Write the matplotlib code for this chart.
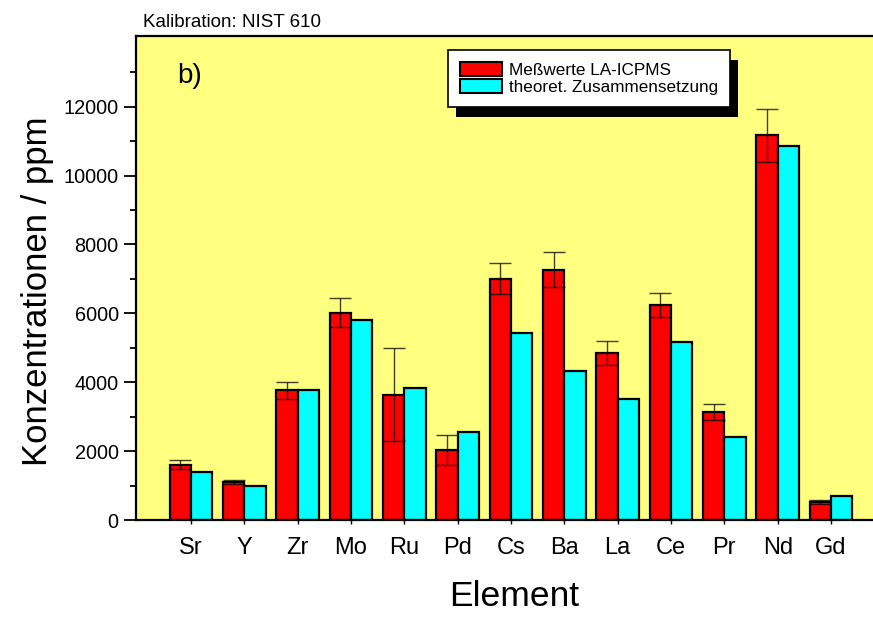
import numpy as np
import matplotlib
matplotlib.use("Agg")
import matplotlib.pyplot as plt
import matplotlib.patches as mpatches

plt.rcParams["font.family"] = ["Liberation Sans", "DejaVu Sans"]

elements = ["Sr", "Y", "Zr", "Mo", "Ru", "Pd", "Cs", "Ba", "La", "Ce", "Pr", "Nd", "Gd"]
measured = [1600, 1100, 3760, 6020, 3640, 2040, 7010, 7270, 4840, 6240, 3140, 11170, 510]
measured_err = [130, 50, 250, 420, 1350, 440, 460, 520, 350, 340, 240, 770, 60]
theoretical = [1400, 1000, 3760, 5800, 3830, 2550, 5420, 4330, 3500, 5170, 2420, 10850, 700]

labels = ["Meßwerte LA-ICPMS", "theoret. Zusammensetzung"]

fig = plt.figure(figsize=(8.73, 6.17), dpi=100)
ax = fig.add_axes([136 / 873, 97 / 617, 1 - 136 / 873 + 0.01, 484 / 617])
ax.set_facecolor("#FFFF80")

x = np.arange(len(elements))
w = 0.4
ax.bar(x - w / 2, measured, width=w, color="#FF0000", edgecolor="black",
       linewidth=1.6, zorder=2)
ax.bar(x + w / 2, theoretical, width=w, color="#00FFFF", edgecolor="black",
       linewidth=1.6, zorder=2)
ax.errorbar(x - w / 2, measured, yerr=measured_err, fmt="none", ecolor="black",
            elinewidth=1.0, capsize=7.8, capthick=1.0, alpha=0.75, zorder=3)

ax.set_xlim(-1.03, 12.95)
ax.set_ylim(0, 14050)
ax.set_yticks(np.arange(0, 12001, 2000))
ax.set_yticks(np.arange(1000, 13001, 2000), minor=True)
ax.tick_params(axis="y", which="major", direction="out", length=8.5, width=1.3,
               labelsize=14.3, pad=4)
ax.tick_params(axis="y", which="minor", direction="out", length=4.5, width=1.3)
ax.set_xticks(x)
ax.set_xticklabels(elements)
ax.tick_params(axis="x", direction="out", length=3, width=1.0, labelsize=17, pad=9)

for side in ["left", "bottom", "top"]:
    ax.spines[side].set_linewidth(1.6)
ax.spines["right"].set_visible(False)

ax.set_ylabel("Konzentrationen / ppm", fontsize=25)
ax.yaxis.set_label_coords(-0.11, 0.472)
ax.set_xlabel("Element", fontsize=25.5)
ax.xaxis.set_label_coords(0.507, -0.125)

fig.text(143 / 873, 1 - 27 / 617, "Kalibration: NIST 610", fontsize=13.5,
         ha="left", va="baseline")
fig.text(177 / 873, 1 - 83 / 617, "b)", fontsize=20, ha="left", va="baseline")

handles = [
    mpatches.Patch(facecolor="#FF0000", edgecolor="black", linewidth=1.5),
    mpatches.Patch(facecolor="#00FFFF", edgecolor="black", linewidth=1.5),
]
leg = ax.legend(handles, labels, loc="upper left",
                bbox_to_anchor=(448 / 873, 1 - 50 / 617),
                bbox_transform=fig.transFigure, fontsize=12.3, frameon=True,
                fancybox=False, shadow=False,
                handlelength=2.45, handleheight=0.85, handletextpad=0.4,
                labelspacing=0.1, borderpad=0.7, borderaxespad=0)
leg.get_frame().set_edgecolor("black")
leg.get_frame().set_linewidth(1.2)
leg.get_frame().set_alpha(1)
leg.set_zorder(10)

# black drop shadow behind the legend box
fig.canvas.draw()
bb = leg.get_window_extent()
shadow = mpatches.Rectangle((bb.x0 + 8, bb.y0 - 10), bb.width, bb.height,
                            facecolor="black", edgecolor="none",
                            transform=None, zorder=9, clip_on=False)
ax.add_artist(shadow)

fig.savefig("out.png", dpi=100)
